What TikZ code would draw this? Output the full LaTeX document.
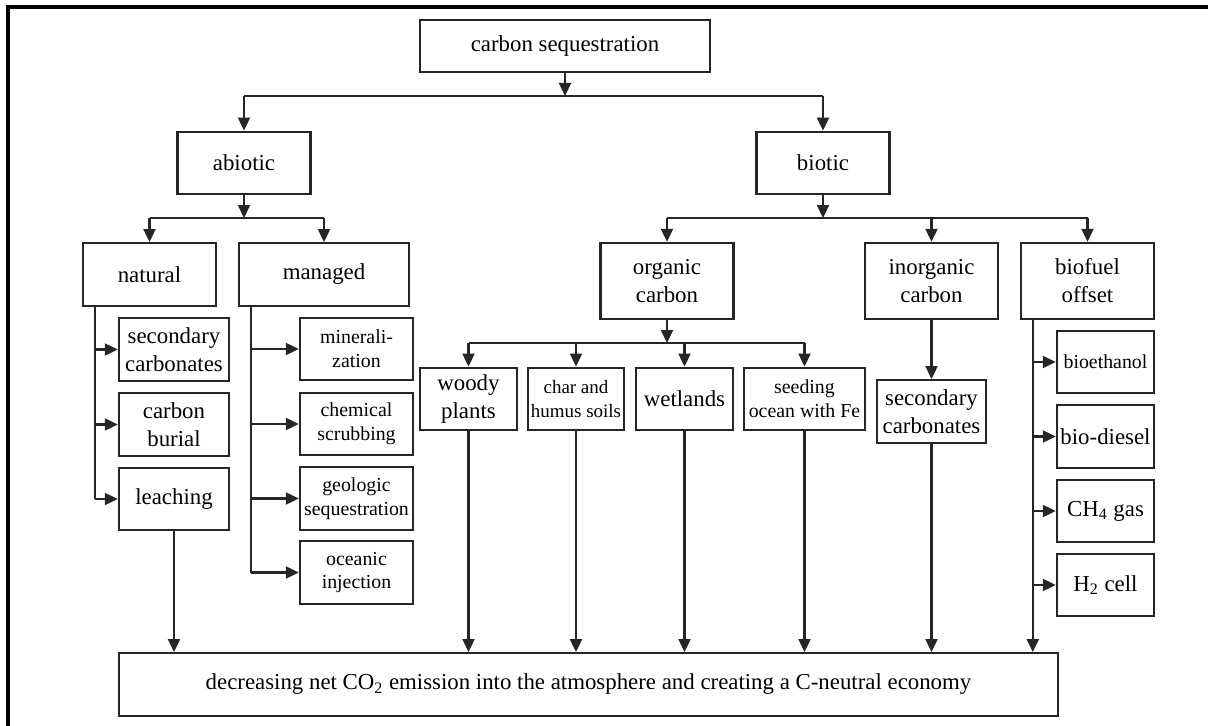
\documentclass[tikz,border=0pt]{standalone}
\usepackage{fontspec}
\setmainfont{Liberation Serif}
\usetikzlibrary{arrows.meta}

\begin{document}
\begin{tikzpicture}[
    x=0.02cm, y=-0.02cm,
    box/.style={draw=black!85, line width=1.4pt, inner sep=1pt, align=center, minimum height=1.25cm, font=\fontsize{13}{16}\selectfont},
    tall/.style={minimum height=1.52cm},
    narrow/.style={font=\fontsize{11.3}{13.5}\selectfont},
    link/.style={line width=1.3pt, draw=black!85},
    >={Triangle[length=2.6mm, width=2.4mm]}
]
    \useasboundingbox (0,0) rectangle (1208,726);
    \draw[line width=1.8pt] (1208,7) -- (8,7) -- (8,726);

    % 1. Top node
    \node[box, minimum width=5.8cm, minimum height=1.04cm] (seq) at (565,46) {carbon sequestration};

    % 2. Abiotic / biotic
    \node[box, minimum width=2.66cm] (abio) at (244,163) {abiotic};
    \node[box, minimum width=2.66cm] (bio) at (823,163) {biotic};

    % 3. Third row
    \node[box, minimum width=2.66cm] (nat) at (149.5,274.5) {natural};
    \node[box, minimum width=3.4cm] (man) at (324,274.5) {managed};
    \node[box, tall, minimum width=2.66cm] (org) at (667,281) {organic\\carbon};
    \node[box, tall, minimum width=2.66cm] (inorg) at (931.5,281) {inorganic\\carbon};
    \node[box, tall, minimum width=2.66cm] (fuel) at (1087.5,281) {biofuel\\offset};

    % 4. Natural branch
    \node[box, minimum width=2.2cm] (nsec) at (174,349.5) {secondary\\carbonates};
    \node[box, minimum width=2.2cm] (burial) at (174,424.5) {carbon\\burial};
    \node[box, minimum width=2.2cm] (leach) at (174,499) {leaching};

    % Managed branch
    \node[box, narrow, minimum width=2.26cm] (mineral) at (356.5,349) {minerali-\\zation};
    \node[box, narrow, minimum width=2.26cm] (chem) at (356.5,424) {chemical\\scrubbing};
    \node[box, narrow, minimum width=2.26cm] (geo) at (356.5,498.5) {geologic\\sequestration};
    \node[box, narrow, minimum width=2.26cm] (ocean) at (356.5,572.5) {oceanic\\injection};

    % Organic carbon branch
    \node[box, minimum width=1.94cm] (woody) at (468.5,399) {woody\\plants};
    \node[box, minimum width=1.92cm, font=\fontsize{10.8}{13.5}\selectfont] (char) at (576,399) {char and\\humus soils};
    \node[box, minimum width=1.94cm] (wet) at (684.5,399) {wetlands};
    \node[box, narrow, minimum width=2.42cm] (seed) at (804.5,399) {seeding\\ocean with Fe};

    % Inorganic carbon branch
    \node[box, minimum width=2.18cm] (isec) at (931.5,411.5) {secondary\\carbonates};

    % Biofuel branch
    \node[box, narrow, minimum width=1.94cm] (ethanol) at (1105.5,362) {bioethanol};
    \node[box, minimum width=1.94cm] (diesel) at (1105.5,436.5) {bio-diesel};
    \node[box, minimum width=1.94cm] (ch4) at (1105.5,511) {CH\textsubscript{4} gas};
    \node[box, minimum width=1.94cm] (h2) at (1105.5,585) {H\textsubscript{2} cell};

    % 5. Bottom node
    \node[box, minimum width=18.78cm] (goal) at (588.5,684.5) {decreasing net CO\textsubscript{2} emission into the atmosphere and creating a C-neutral economy};

    % Buses
    \coordinate (bus1) at (0,96);
    \coordinate (bus2) at (0,218);
    \coordinate (bus3) at (0,343);
    \coordinate (nstem) at ([xshift=0.26cm]nat.south west);
    \coordinate (mstem) at ([xshift=0.26cm]man.south west);
    \coordinate (fstem) at ([xshift=0.26cm]fuel.south west);

    % Arrows
    \draw[link, ->] (seq) -- (seq |- bus1);
    \draw[link] (abio |- bus1) -- (bio |- bus1);
    \draw[link, ->] (abio |- bus1) -- (abio);
    \draw[link, ->] (bio |- bus1) -- (bio);

    \draw[link, ->] (abio) -- (abio |- bus2);
    \draw[link] (nat |- bus2) -- (man |- bus2);
    \foreach \n in {nat, man} \draw[link, ->] (\n |- bus2) -- (\n);

    \draw[link, ->] (bio) -- (bio |- bus2);
    \draw[link] (org |- bus2) -- (fuel |- bus2);
    \foreach \n in {org, inorg, fuel} \draw[link, ->] (\n |- bus2) -- (\n);

    % side branches
    \draw[link] (nstem) -- (nstem |- leach);
    \foreach \n in {nsec, burial, leach} \draw[link, ->] (nstem |- \n) -- (\n);
    \draw[link] (mstem) -- (mstem |- ocean);
    \foreach \n in {mineral, chem, geo, ocean} \draw[link, ->] (mstem |- \n) -- (\n);
    \foreach \n in {ethanol, diesel, ch4, h2} \draw[link, ->] (fstem |- \n) -- (\n);

    \draw[link, ->] (org) -- (org |- bus3);
    \draw[link] (woody |- bus3) -- (seed |- bus3);
    \foreach \n in {woody, char, wet, seed} \draw[link, ->] (\n |- bus3) -- (\n);

    \draw[link, ->] (inorg) -- (isec);

    % Final arrows
    \foreach \n in {leach, woody, char, wet, seed, isec} \draw[link, ->] (\n) -- (\n |- goal.north);
    \draw[link, ->] (fstem) -- (fstem |- goal.north);

\end{tikzpicture}
\end{document}
